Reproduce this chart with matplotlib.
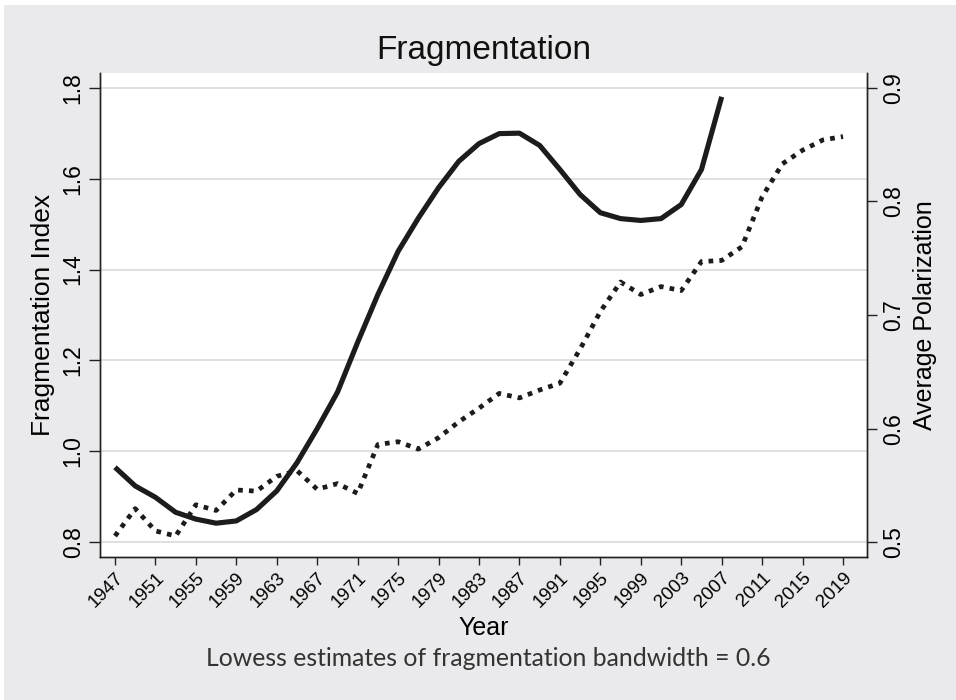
import numpy as np
import matplotlib
matplotlib.use("Agg")
import matplotlib.pyplot as plt
from matplotlib.patches import Rectangle

# lowess estimates
years_frag = list(range(1947, 2008, 2))
frag = [0.965, 0.924, 0.899, 0.866, 0.851, 0.842, 0.847, 0.872, 0.913, 0.975,
        1.05, 1.13, 1.24, 1.345, 1.44, 1.513, 1.58, 1.638, 1.677, 1.699,
        1.700, 1.673, 1.62, 1.565, 1.525, 1.512, 1.508, 1.512, 1.543, 1.62, 1.78]

years_pol = list(range(1947, 2020, 2))
polar = [0.5055, 0.5296, 0.510, 0.5055, 0.533, 0.528, 0.546, 0.545, 0.558, 0.563,
         0.5466, 0.5516, 0.543, 0.586, 0.5885, 0.582, 0.592, 0.606, 0.618, 0.631,
         0.627, 0.634, 0.640, 0.670, 0.703, 0.729, 0.718, 0.725, 0.7215, 0.747,
         0.748, 0.760, 0.804, 0.833, 0.845, 0.854, 0.857]

xticks = list(range(1947, 2020, 4))
left_ticks = [0.8, 1.0, 1.2, 1.4, 1.6, 1.8]
left_labels = ["0.8", "1.0", "1.2", "1.4", "1.6", "1.8"]
right_ticks = [0.5, 0.6, 0.7, 0.8, 0.9]

plt.rcParams['font.family'] = ['Liberation Sans', 'DejaVu Sans']

fig = plt.figure(figsize=(9.56, 7.0), dpi=100)
fig.patch.set_facecolor("white")
# gray stata-like background with thin white strip at top/left
fig.patches.append(Rectangle((4/956, 0), 1, 695/700, transform=fig.transFigure,
                             facecolor="#EAEAEC", edgecolor="none", zorder=-10))

ax = fig.add_axes([100/956, 1 - 556.7/700, 766.7/956, 484/700])
ax.set_facecolor("white")
ax2 = ax.twinx()

ink = "#1c1c1c"
ax.plot(years_frag, frag, color=ink, lw=3.7, solid_capstyle="butt", zorder=3)
ax2.plot(years_pol, polar, color=ink, lw=3.4, linestyle=(0, (1, 1.3)),
         dash_capstyle="butt", zorder=3)

ax.set_xlim(1945.52, 2021.34)
ax.set_ylim(0.7683, 1.833)
ax2.set_ylim(0.4873, 0.9132)

ax.set_xticks(xticks)
ax.set_xticklabels([str(y) for y in xticks], rotation=45, ha="right",
                   rotation_mode="anchor", fontsize=13.5)
ax.set_yticks(left_ticks)
ax.set_yticklabels(left_labels, rotation=90, va="center", fontsize=16.5)
ax2.set_yticks(right_ticks)
ax2.set_yticklabels([str(v) for v in right_ticks], rotation=90, va="center",
                    fontsize=16.5)

ax.grid(axis="y", color="#E0E0E0", lw=1.4)
ax.set_axisbelow(True)

for a in (ax, ax2):
    a.spines["top"].set_visible(False)
    for s in ("left", "right", "bottom"):
        a.spines[s].set_color("#222222")
        a.spines[s].set_linewidth(1.0)
ax.tick_params(axis="y", length=8, width=1, color="#222222", pad=3)
ax.tick_params(axis="x", length=6, width=1, color="#222222", pad=3)
ax2.tick_params(axis="y", length=7, width=1, color="#222222", pad=4)

ax.set_ylabel("Fragmentation Index", fontsize=19, labelpad=5)
ax2.set_ylabel("Average Polarization", fontsize=18, labelpad=6)
ax.set_xlabel("Year", fontsize=18, labelpad=4)

fig.text(484/956, 1 - 50/700, "Fragmentation", ha="center", va="center",
         fontsize=24, color="#111111")
fig.text(488/956, 1 - 658/700,
         "Lowess estimates of fragmentation bandwidth = 0.6",
         ha="center", va="center", fontsize=17.8, color="#333333",
         family=["Lato", "DejaVu Sans"])

fig.savefig("out.png", dpi=100)
